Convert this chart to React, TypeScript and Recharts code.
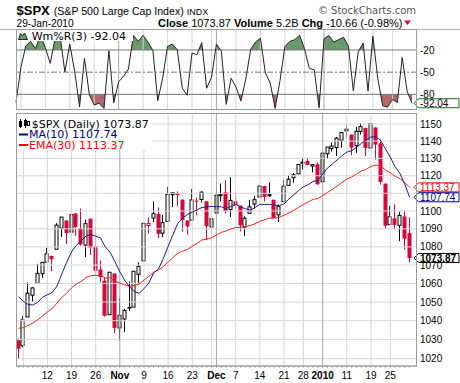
import React from 'react';
import { ComposedChart, Bar, Line, Area, XAxis, YAxis, ReferenceLine } from 'recharts';

// ---------------- DATA ----------------
const dates = [
  '2009-10-02', '2009-10-05', '2009-10-06', '2009-10-07', '2009-10-08', '2009-10-09',
  '2009-10-12', '2009-10-13', '2009-10-14', '2009-10-15', '2009-10-16',
  '2009-10-19', '2009-10-20', '2009-10-21', '2009-10-22', '2009-10-23',
  '2009-10-26', '2009-10-27', '2009-10-28', '2009-10-29', '2009-10-30',
  '2009-11-02', '2009-11-03', '2009-11-04', '2009-11-05', '2009-11-06',
  '2009-11-09', '2009-11-10', '2009-11-11', '2009-11-12', '2009-11-13',
  '2009-11-16', '2009-11-17', '2009-11-18', '2009-11-19', '2009-11-20',
  '2009-11-23', '2009-11-24', '2009-11-25', '2009-11-27', '2009-11-30',
  '2009-12-01', '2009-12-02', '2009-12-03', '2009-12-04',
  '2009-12-07', '2009-12-08', '2009-12-09', '2009-12-10', '2009-12-11',
  '2009-12-14', '2009-12-15', '2009-12-16', '2009-12-17', '2009-12-18',
  '2009-12-21', '2009-12-22', '2009-12-23', '2009-12-24',
  '2009-12-28', '2009-12-29', '2009-12-30', '2009-12-31',
  '2010-01-04', '2010-01-05', '2010-01-06', '2010-01-07', '2010-01-08',
  '2010-01-11', '2010-01-12', '2010-01-13', '2010-01-14', '2010-01-15',
  '2010-01-19', '2010-01-20', '2010-01-21', '2010-01-22',
  '2010-01-25', '2010-01-26', '2010-01-27', '2010-01-28', '2010-01-29',
];

const opens = [1029.71, 1026.87, 1042.02, 1053.65, 1060.03, 1065.28, 1071.63, 1074.96, 1078.68, 1090.36, 1094.67, 1088.22, 1098.64, 1090.36, 1080.96, 1095.62, 1080.36, 1067.54, 1061.51, 1043.19, 1065.41, 1036.18, 1040.92, 1047.30, 1047.30, 1064.95, 1072.31, 1091.86, 1096.04, 1098.31, 1087.59, 1094.13, 1109.22, 1109.44, 1106.44, 1094.66, 1094.86, 1105.83, 1106.49, 1105.47, 1091.07, 1098.89, 1109.03, 1110.59, 1100.83, 1105.52, 1103.04, 1091.07, 1098.69, 1103.96, 1107.84, 1114.11, 1108.61, 1106.36, 1097.86, 1105.31, 1114.51, 1118.84, 1121.08, 1127.53, 1128.55, 1125.53, 1126.60, 1116.56, 1132.66, 1135.71, 1136.27, 1140.52, 1145.96, 1143.81, 1137.31, 1145.68, 1147.72, 1136.03, 1147.95, 1138.68, 1115.49, 1092.40, 1095.80, 1091.94, 1096.93, 1087.61];
const highs = [1030.60, 1042.58, 1060.55, 1058.02, 1070.67, 1071.51, 1079.46, 1075.30, 1093.17, 1096.56, 1094.67, 1100.17, 1098.64, 1101.36, 1095.21, 1095.83, 1091.75, 1072.48, 1063.26, 1065.85, 1065.41, 1052.18, 1046.36, 1061.00, 1066.65, 1071.48, 1093.19, 1096.42, 1105.37, 1101.97, 1097.79, 1113.69, 1110.52, 1111.10, 1106.44, 1094.66, 1112.38, 1107.56, 1111.18, 1105.47, 1097.24, 1112.28, 1115.58, 1117.28, 1119.13, 1110.72, 1103.04, 1097.04, 1106.25, 1108.50, 1114.76, 1114.11, 1116.21, 1106.36, 1103.74, 1117.68, 1120.27, 1121.58, 1126.48, 1130.38, 1130.38, 1126.42, 1127.64, 1133.87, 1136.63, 1139.19, 1142.46, 1145.39, 1149.74, 1143.81, 1148.40, 1150.41, 1147.77, 1150.45, 1147.95, 1141.00, 1115.49, 1102.97, 1103.69, 1099.51, 1100.22, 1096.45];
const lows = [1019.95, 1025.92, 1042.02, 1050.10, 1060.03, 1063.00, 1071.63, 1066.71, 1078.68, 1085.42, 1081.53, 1086.48, 1086.16, 1080.77, 1074.31, 1075.49, 1065.23, 1060.62, 1042.19, 1043.19, 1033.38, 1029.38, 1033.94, 1045.15, 1047.30, 1059.32, 1072.31, 1087.40, 1093.81, 1084.90, 1085.33, 1094.13, 1102.19, 1102.70, 1088.40, 1086.81, 1094.86, 1097.63, 1104.75, 1083.74, 1086.25, 1098.89, 1105.29, 1098.74, 1096.52, 1100.83, 1088.61, 1085.89, 1098.69, 1101.34, 1107.84, 1105.35, 1107.96, 1095.88, 1093.88, 1105.31, 1114.51, 1116.00, 1121.08, 1123.51, 1126.08, 1121.94, 1114.81, 1116.56, 1129.66, 1133.95, 1131.32, 1136.22, 1142.02, 1131.77, 1133.18, 1143.80, 1131.39, 1135.77, 1129.25, 1114.84, 1090.18, 1092.40, 1089.86, 1083.11, 1078.46, 1071.59];
const closes = [1025.21, 1040.46, 1054.72, 1057.58, 1065.48, 1071.49, 1076.19, 1073.19, 1092.02, 1096.56, 1087.68, 1097.91, 1091.06, 1081.40, 1092.91, 1079.60, 1066.95, 1063.41, 1042.63, 1066.11, 1036.19, 1042.88, 1045.41, 1046.50, 1066.63, 1069.30, 1093.08, 1093.01, 1098.51, 1087.24, 1093.48, 1109.30, 1110.32, 1109.80, 1094.90, 1091.38, 1106.24, 1105.65, 1110.63, 1091.49, 1095.63, 1108.86, 1109.24, 1099.92, 1105.98, 1103.25, 1091.94, 1095.95, 1102.35, 1106.41, 1114.11, 1107.93, 1109.18, 1096.08, 1102.47, 1114.05, 1118.02, 1120.59, 1126.48, 1127.78, 1126.20, 1126.42, 1115.10, 1132.99, 1136.52, 1137.14, 1141.69, 1144.98, 1146.98, 1136.22, 1145.68, 1148.46, 1136.03, 1150.23, 1138.04, 1116.48, 1091.76, 1096.78, 1092.17, 1097.50, 1084.53, 1073.87];
const priorClose = 1029.85;

const ma10 = [1052.81, 1050.39, 1048.69, 1048.37, 1049.84, 1052.55, 1053.87, 1055.13, 1058.62, 1065.29, 1071.54, 1077.28, 1080.92, 1083.30, 1086.04, 1086.85, 1085.93, 1084.95, 1080.01, 1076.97, 1071.82, 1066.31, 1061.75, 1058.26, 1055.63, 1054.60, 1057.21, 1060.17, 1065.76, 1067.88, 1073.60, 1080.25, 1086.74, 1093.07, 1095.89, 1098.10, 1099.42, 1100.68, 1101.89, 1102.32, 1102.53, 1102.49, 1102.38, 1101.39, 1102.50, 1103.69, 1102.26, 1101.29, 1100.46, 1101.95, 1103.80, 1103.71, 1103.70, 1103.32, 1102.97, 1104.05, 1106.66, 1109.12, 1111.53, 1113.67, 1114.88, 1116.73, 1117.32, 1121.01, 1124.42, 1126.72, 1129.09, 1131.53, 1133.58, 1134.42, 1136.37, 1138.58, 1140.67, 1142.39, 1142.55, 1140.48, 1135.49, 1130.67, 1125.19, 1121.31, 1115.20, 1107.74];
const ema30 = [1036.00, 1036.29, 1037.48, 1038.78, 1040.50, 1042.50, 1044.67, 1046.51, 1049.45, 1052.49, 1054.76, 1057.54, 1059.71, 1061.11, 1063.16, 1064.22, 1064.40, 1064.33, 1062.93, 1063.14, 1061.40, 1060.21, 1059.25, 1058.43, 1058.96, 1059.63, 1061.78, 1063.80, 1066.04, 1067.41, 1069.09, 1071.68, 1074.18, 1076.47, 1077.66, 1078.55, 1080.33, 1081.97, 1083.82, 1084.31, 1085.04, 1086.58, 1088.04, 1088.81, 1089.91, 1090.78, 1090.85, 1091.18, 1091.90, 1092.84, 1094.21, 1095.10, 1096.00, 1096.01, 1096.43, 1097.56, 1098.88, 1100.29, 1101.98, 1103.64, 1105.10, 1106.47, 1107.03, 1108.70, 1110.50, 1112.22, 1114.12, 1116.11, 1118.10, 1119.27, 1120.97, 1122.75, 1123.60, 1125.32, 1126.14, 1125.52, 1123.34, 1121.63, 1119.73, 1118.29, 1116.11, 1113.37];
const williamsR = [-90.7, -43.8, -14.4, -8.6, -18.1, -0.1, -16.8, -38.1, -4.3, 0, -49.7, -12.1, -48.9, -96.9, -31.2, -80.4, -94.4, -92.1, -99.1, -21.0, -91.3, -63.0, -55.5, -45.9, -0.1, -8.3, -0.2, -9.2, -20.8, -88.6, -58.1, -15.2, -11.9, -19.9, -71.4, -81.2, -24.0, -26.3, -10.0, -71.8, -56.7, -12.0, -21.6, -93.6, -58.2, -70.2, -89.1, -59.5, -19.2, -9.2, -4.0, -50.9, -64.7, -99.0, -61.5, -15.3, -8.5, -6.1, 0, -18.1, -44.9, -46.9, -98.1, -4.6, -0.5, -9.1, -6.0, -2.9, -15.0, -75.2, -22.6, -10.5, -75.6, -1.2, -58.5, -95.4, -97.3, -87.0, -91.0, -30.1, -75.9, -92.04];

const lastClose = 1073.87;
const lastMA = 1107.74;
const lastEMA = 1113.37;
const lastWR = -92.04;

const priceTicks = [1020, 1030, 1040, 1050, 1060, 1070, 1080, 1090, 1100, 1110, 1120, 1130, 1140, 1150];
const hiddenPriceLabels = [1110];
const wrLevels = [-20, -50, -80];
const gridDates = ['2009-10-05', '2009-10-12', '2009-10-19', '2009-10-26', '2009-11-02', '2009-11-09', '2009-11-16', '2009-11-23', '2009-11-30', '2009-12-01', '2009-12-07', '2009-12-14', '2009-12-21', '2009-12-28', '2010-01-04', '2010-01-11', '2010-01-19', '2010-01-25'];
const monthDates = ['2009-11-02', '2009-12-01', '2010-01-04'];
const tickDates = ['2009-10-12', '2009-10-19', '2009-10-26', '2009-11-02', '2009-11-09', '2009-11-16', '2009-11-23', '2009-12-01', '2009-12-07', '2009-12-14', '2009-12-21', '2009-12-28', '2010-01-04', '2010-01-11', '2010-01-19', '2010-01-25'];
const tickTexts = ['12', '19', '26', 'Nov', '9', '16', '23', 'Dec', '7', '14', '21', '28', '2010', '11', '19', '25'];

// ---------------- STYLE ----------------
const RED = '#d4083a';
const NAVY = '#1c1c8e';
const EMA_RED = '#ff2020';
const GRID = '#d6d6d6';
const MONTH_GRID = '#a6a6a6';
const FRAME = '#9c9c9c';
const WR_GREEN = '#6a9a6a';
const WR_RED = '#b06a6a';
const ARIAL = '"Liberation Sans", Arial, sans-serif';
const VERD = '"DejaVu Sans", Verdana, sans-serif';

const PRICE_DOMAIN: [number, number] = [1016.2, 1156.5];
const WR_DOMAIN: [number, number] = [-101.2, 8.4];
const WR_H = 112;
const WR_M = { top: 29, right: 0, bottom: 2, left: 16 };

const Candle = (p: any) => {
  const { x, y, width, height, payload } = p;
  if (x == null || y == null || !payload) return null;
  const top = Math.min(y, y + height);
  const bot = Math.max(y, y + height);
  const lh = Math.log(payload.high);
  const ll = Math.log(payload.low);
  const pix = (v: number) => (lh === ll ? top : top + (bot - top) * (lh - Math.log(v)) / (lh - ll));
  const cx = Math.round(x + width / 2) - 0.5;
  const color = payload.close >= payload.prev ? '#000000' : RED;
  const hollow = payload.close > payload.open;
  const yo = pix(payload.open);
  const yc = pix(payload.close);
  const bTop = Math.min(yo, yc);
  const bBot = Math.max(yo, yc);
  if (hollow) {
    return (
      <g>
        <line x1={cx} x2={cx} y1={top} y2={bTop} stroke={color} strokeWidth={1} />
        <line x1={cx} x2={cx} y1={bBot} y2={bot} stroke={color} strokeWidth={1} />
        <rect x={cx - 1.5} y={bTop} width={3} height={Math.max(bBot - bTop, 1)} fill="#ffffff" stroke={color} strokeWidth={1} />
      </g>
    );
  }
  return (
    <g>
      <line x1={cx} x2={cx} y1={top} y2={bot} stroke={color} strokeWidth={1} />
      <rect x={cx - 2} y={bTop} width={4} height={Math.max(bBot - bTop, 1)} fill={color} />
    </g>
  );
};

const PriceTag = (p: any) => {
  const vb = p.viewBox || {};
  const x0 = (vb.x || 0) + (vb.width || 0) - 3;
  const y0 = vb.y || 0;
  const d = `M${x0},${y0} L${x0 + 4.5},${y0 - 4.5} L${x0 + 45},${y0 - 4.5} L${x0 + 45},${y0 + 4.5} L${x0 + 4.5},${y0 + 4.5} Z`;
  return (
    <g>
      <path d={d} fill="#ffffff" stroke={p.color} strokeWidth={1} />
      <text x={x0 + 6} y={y0 + 3.6} fontSize={10} fontFamily={ARIAL} fontWeight={p.bold ? 700 : 400} fill={p.textColor || p.color}>{p.text}</text>
    </g>
  );
};

const XTick = (p: any) => {
  const idx = tickDates.indexOf(p.payload?.value);
  if (idx < 0) return null;
  const txt = tickTexts[idx];
  const bold = isNaN(Number(txt)) || txt.length === 4;
  return (
    <text x={p.x} y={p.y + 9} textAnchor="middle" fontSize={10} fontFamily={ARIAL} fontWeight={bold ? 700 : 400} fill="#000">{txt}</text>
  );
};

const YTick = (p: any) => {
  const v = p.payload?.value;
  if (hiddenPriceLabels.includes(v)) return null;
  return <text x={p.x} y={p.y + 3.6} textAnchor="start" fontSize={10} fontFamily={ARIAL} fill="#000">{v}</text>;
};

export default function App() {
  const data = dates.map((d, i) => ({
    date: d,
    open: opens[i],
    high: highs[i],
    low: lows[i],
    close: closes[i],
    prev: i === 0 ? priorClose : closes[i - 1],
    range: [lows[i], highs[i]],
    ma: ma10[i],
    ema: ema30[i],
    wr: williamsR[i],
  }));

  const wrTopY = WR_M.top;
  const wrBotY = WR_H - WR_M.bottom;
  const fTop = (WR_DOMAIN[1] - -20) / (WR_DOMAIN[1] - WR_DOMAIN[0]);
  const fBot = (WR_DOMAIN[1] - -80) / (WR_DOMAIN[1] - WR_DOMAIN[0]);

  return (
    <div style={{ position: 'absolute', left: 0, top: 0, width: 460, height: 383, background: '#fff', overflow: 'hidden' }}>
      {/* Williams %R panel */}
      <div style={{ position: 'absolute', left: 0, top: 0 }}>
        <ComposedChart width={460} height={WR_H} data={data} margin={WR_M}>
          <defs>
            <linearGradient id="wrTopFill" gradientUnits="userSpaceOnUse" x1={0} y1={wrTopY} x2={0} y2={wrBotY}>
              <stop offset={0} stopColor={WR_GREEN} stopOpacity={1} />
              <stop offset={fTop} stopColor={WR_GREEN} stopOpacity={1} />
              <stop offset={fTop} stopColor={WR_GREEN} stopOpacity={0} />
              <stop offset={1} stopColor={WR_GREEN} stopOpacity={0} />
            </linearGradient>
            <linearGradient id="wrBotFill" gradientUnits="userSpaceOnUse" x1={0} y1={wrTopY} x2={0} y2={wrBotY}>
              <stop offset={0} stopColor={WR_RED} stopOpacity={0} />
              <stop offset={fBot} stopColor={WR_RED} stopOpacity={0} />
              <stop offset={fBot} stopColor={WR_RED} stopOpacity={1} />
              <stop offset={1} stopColor={WR_RED} stopOpacity={1} />
            </linearGradient>
          </defs>
          <XAxis dataKey="date" type="category" hide padding={{ left: 0, right: 5 }} />
          <YAxis orientation="right" width={43} domain={WR_DOMAIN} ticks={wrLevels} interval={0} allowDataOverflow tick={<YTick />} tickLine={false} axisLine={false} tickSize={0} tickMargin={3} />
          {gridDates.map((d) => (
            <ReferenceLine key={'wg' + d} x={d} stroke={monthDates.includes(d) ? MONTH_GRID : GRID} strokeWidth={1} />
          ))}
          <Area type="linear" dataKey="wr" baseValue={-20} fill="url(#wrTopFill)" fillOpacity={1} stroke="none" isAnimationActive={false} />
          <Area type="linear" dataKey="wr" baseValue={-80} fill="url(#wrBotFill)" fillOpacity={1} stroke="none" isAnimationActive={false} />
          <ReferenceLine y={-20} stroke="#7a7a7a" strokeWidth={1} />
          <ReferenceLine y={-50} stroke="#7a7a7a" strokeWidth={1} strokeDasharray="6 2 2 2" />
          <ReferenceLine y={-80} stroke="#7a7a7a" strokeWidth={1} />
          <Line type="linear" dataKey="wr" stroke="#222222" strokeWidth={1} dot={false} isAnimationActive={false} />
          <ReferenceLine y={lastWR} stroke="none" ifOverflow="visible" label={<PriceTag text={lastWR.toFixed(2)} color="#1b6b1b" textColor="#000" />} />
        </ComposedChart>
      </div>

      {/* Price panel */}
      <div style={{ position: 'absolute', left: 0, top: 110 }}>
        <ComposedChart width={460} height={273} data={data} margin={{ top: 3, right: 0, bottom: 0, left: 16 }} barCategoryGap={0}>
          <XAxis dataKey="date" type="category" interval={0} padding={{ left: 0, right: 5 }} height={17} tick={<XTick />} tickLine={{ stroke: '#b0b0b0' }} tickSize={2} axisLine={{ stroke: FRAME }} />
          <YAxis orientation="right" width={43} scale="log" domain={PRICE_DOMAIN} ticks={priceTicks} interval={0} allowDataOverflow tick={<YTick />} tickLine={false} axisLine={false} tickSize={0} tickMargin={3} />
          {priceTicks.map((t) => (
            <ReferenceLine key={'pg' + t} y={t} stroke={GRID} strokeWidth={1} />
          ))}
          {gridDates.map((d) => (
            <ReferenceLine key={'xg' + d} x={d} stroke={monthDates.includes(d) ? MONTH_GRID : GRID} strokeWidth={1} />
          ))}
          <Bar dataKey="range" isAnimationActive={false} shape={(p: any) => <Candle {...p} />} />
          <Line type="linear" dataKey="ema" stroke={EMA_RED} strokeWidth={1} dot={false} isAnimationActive={false} />
          <Line type="linear" dataKey="ma" stroke={NAVY} strokeWidth={1} dot={false} isAnimationActive={false} />
          <ReferenceLine y={lastEMA} stroke="none" ifOverflow="visible" label={<PriceTag text={lastEMA.toFixed(2)} color="#ff0000" />} />
          <ReferenceLine y={lastMA} stroke="none" ifOverflow="visible" label={<PriceTag text={lastMA.toFixed(2)} color="#000099" />} />
          <ReferenceLine y={lastClose} stroke="none" ifOverflow="visible" label={<PriceTag text={lastClose.toFixed(2)} color="#000000" bold />} />
        </ComposedChart>
      </div>

      {/* overlay: header, legends, frames */}
      <svg width={460} height={383} style={{ position: 'absolute', left: 0, top: 0, pointerEvents: 'none' }}>
        <text x={16.5} y={14.7} fontFamily={ARIAL} fill="#000">
          <tspan fontSize={13} fontWeight={700}>$SPX</tspan>
          <tspan fontSize={10.6} dx={4}>(S&amp;P 500 Large Cap Index)</tspan>
          <tspan fontSize={9} dx={3}>INDX</tspan>
        </text>
        <text x={416} y={14} textAnchor="end" fontFamily={VERD} fontSize={10} fill="#555">© StockCharts.com</text>
        <text x={16.5} y={26.5} fontFamily={ARIAL} fontSize={10.2} fill="#000">29-Jan-2010</text>
        <text x={402.5} y={26.5} textAnchor="end" fontFamily={ARIAL} fontSize={11} fill="#000">
          <tspan fontWeight={700}>Close</tspan>
          <tspan> 1073.87 </tspan>
          <tspan fontWeight={700}>Volume</tspan>
          <tspan> 5.2B </tspan>
          <tspan fontWeight={700}>Chg</tspan>
          <tspan> -10.66 (-0.98%)</tspan>
        </text>
        <path d="M404,20.5 L411,20.5 L407.5,25 Z" fill={RED} />

        {/* header separator and panel frames */}
        <line x1={0} x2={460} y1={29.5} y2={29.5} stroke="#b4b4b4" />
        <rect x={16.5} y={29.5} width={400} height={80} fill="none" stroke={FRAME} />
        <rect x={16.5} y={113.5} width={400} height={252.5} fill="none" stroke={FRAME} />

        {/* W%R legend */}
        <rect x={17} y={30} width={116} height={11} fill="#fff" />
        <path d="M18.5,39.5 L20.5,33.5 L22.5,36 L24.5,33 L27.5,39.5 Z" fill={WR_GREEN} stroke="#000" strokeWidth={0.8} />
        <text x={31.7} y={40} fontFamily={VERD} fontSize={11} fill="#000">Wm%R(3) -92.04</text>

        {/* price legend */}
        <rect x={17} y={114} width={135} height={36} fill="#fff" />
        <rect x={19.5} y={121.5} width={2} height={5} fill="none" stroke="#000" strokeWidth={1} />
        <line x1={20.5} x2={20.5} y1={119} y2={128} stroke="#000" />
        <rect x={24} y={120} width={3} height={6} fill="#000" />
        <line x1={25.5} x2={25.5} y1={118.5} y2={128} stroke="#000" />
        <rect x={27.5} y={121.5} width={2} height={4} fill="none" stroke="#000" strokeWidth={1} />
        <text x={31.7} y={127.5} fontFamily={VERD} fontSize={11} fill="#000">$SPX (Daily) 1073.87</text>
        <line x1={19} x2={28} y1={134.5} y2={134.5} stroke="#000080" strokeWidth={2} />
        <text x={29} y={138.2} fontFamily={VERD} fontSize={11} fill="#000080">MA(10) 1107.74</text>
        <line x1={19} x2={28} y1={145} y2={145} stroke="#ff0000" strokeWidth={2} />
        <text x={29} y={148.7} fontFamily={VERD} fontSize={11} fill="#ff0000">EMA(30) 1113.37</text>
      </svg>
    </div>
  );
}
